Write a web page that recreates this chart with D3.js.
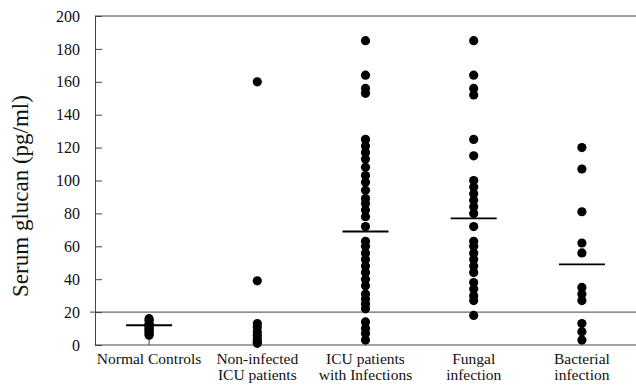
<!DOCTYPE html>
<html><head><meta charset="utf-8">
<script src="https://cdn.jsdelivr.net/npm/d3@7"></script>
<style>
html,body{margin:0;padding:0;background:#fff;}
svg{display:block;}
</style></head>
<body><svg id="c" width="636" height="386"></svg>
<script>
const categories = ["Normal Controls", "Non-infected ICU patients", "ICU patients with Infections", "Fungal infection", "Bacterial infection"];
const categoryLines = [["Normal Controls"], ["Non-infected", "ICU patients"], ["ICU patients", "with Infections"], ["Fungal", "infection"], ["Bacterial", "infection"]];
const normalControls = [16, 15, 13, 12, 12, 11, 10, 9, 8, 7, 6];
const nonInfected = [160, 39, 13, 11, 8, 6, 4, 2, 1];
const icuInfections = [185, 164, 156, 153, 125, 121, 117, 113, 108, 103, 99, 94, 89, 86, 82, 78, 72, 63, 60, 56, 52, 48, 44, 40, 36, 31, 28, 25, 22, 14, 10, 7, 3];
const fungal = [185, 164, 156, 152, 125, 115, 100, 96, 92, 88, 84, 80, 72, 63, 60, 56, 52, 48, 44, 38, 34, 30, 27, 18];
const bacterial = [120, 107, 81, 62, 56, 35, 31, 27, 13, 8, 3];
const medians = [12, null, 69, 77, 49];
const cutoff = 20;
const yTicks = [0, 20, 40, 60, 80, 100, 120, 140, 160, 180, 200];

const seriesValues = [normalControls, nonInfected, icuInfections, fungal, bacterial];
const FONT = "'Liberation Serif', 'Times New Roman', serif";

const svg = d3.select("#c");
const L = 95, R = 636, T = 16, B = 345;
const x = d3.scaleBand().domain(categories).range([L, R]).padding(0);
const y = d3.scaleLinear().domain([0, 200]).range([B, T]);

const lineCol = "#444";
svg.append("line").attr("x1", L).attr("x2", R).attr("y1", y(200)).attr("y2", y(200)).attr("stroke", lineCol).attr("stroke-width", 1);
svg.append("line").attr("x1", L).attr("x2", R).attr("y1", y(0)).attr("y2", y(0)).attr("stroke", lineCol).attr("stroke-width", 1);
svg.append("line").attr("x1", L - 5).attr("x2", R).attr("y1", y(cutoff)).attr("y2", y(cutoff)).attr("stroke", lineCol).attr("stroke-width", 1);

const ax = svg.append("g").attr("transform", `translate(${L},0)`)
  .call(d3.axisLeft(y).tickValues(yTicks).tickSizeInner(-7).tickSizeOuter(0).tickPadding(15).tickFormat(d3.format("d")));
ax.attr("font-family", FONT).attr("font-size", 16);
ax.select(".domain").attr("stroke", lineCol);
ax.selectAll(".tick line").attr("stroke", lineCol);
ax.selectAll(".tick text").attr("fill", "#111");

svg.append("text").attr("transform", `translate(28,${196}) rotate(-90)`)
  .attr("text-anchor", "middle").attr("font-family", FONT).attr("font-size", 23).attr("fill", "#111")
  .text("Serum glucan (pg/ml)");

categories.forEach((c, i) => {
  const cx = x(c) + x.bandwidth() / 2;
  categoryLines[i].forEach((ln, j) => {
    svg.append("text").attr("x", cx).attr("y", 364 + j * 16)
      .attr("text-anchor", "middle").attr("font-family", FONT).attr("font-size", 15.5).attr("fill", "#111")
      .text(ln);
  });
});

svg.append("line").attr("x1", x(categories[0]) + x.bandwidth() / 2).attr("x2", x(categories[0]) + x.bandwidth() / 2)
  .attr("y1", y(d3.min(normalControls))).attr("y2", y(0)).attr("stroke", "#444").attr("stroke-width", 1);

seriesValues.forEach((vals, i) => {
  const cx = x(categories[i]) + x.bandwidth() / 2;
  svg.append("g").selectAll("circle").data(vals).join("circle")
    .attr("cx", cx).attr("cy", d => y(d)).attr("r", 4.6).attr("fill", "#000");
});

medians.forEach((m, i) => {
  if (m == null) return;
  const cx = x(categories[i]) + x.bandwidth() / 2;
  svg.append("line").attr("x1", cx - 23).attr("x2", cx + 23).attr("y1", y(m)).attr("y2", y(m))
    .attr("stroke", "#000").attr("stroke-width", 1.8);
});
</script></body></html>
